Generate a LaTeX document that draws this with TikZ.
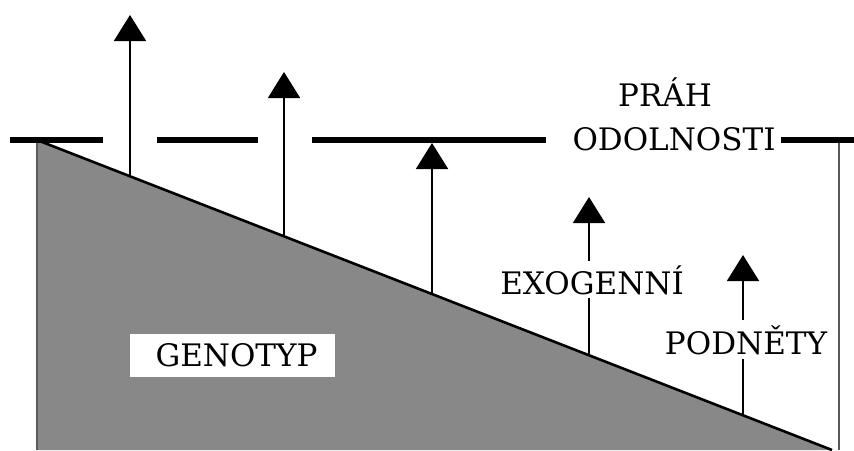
\documentclass[tikz,border=0pt]{standalone}
\usepackage{fontspec}
\setmainfont{DejaVu Serif}
\usetikzlibrary{arrows.meta}
\definecolor{genofill}{RGB}{136,136,136}
\definecolor{edgegray}{RGB}{90,90,90}
\tikzset{
  lbl/.style={font=\fontsize{31}{40}\selectfont, inner sep=0pt, anchor=base},
  threshold/.style={line width=5.5pt, black},
  stimulus/.style={line width=1.8pt, black, -{Triangle[width=32pt,length=26pt]}},
  slope/.style={line width=2.6pt, black},
  sideline/.style={line width=2pt, edgegray},
}
\begin{document}
\begin{tikzpicture}[x=1pt,y=-1pt]
\useasboundingbox (0,0) rectangle (854,450);

% genotype wedge
\coordinate (top) at (37,140);
\coordinate (low) at (832,450);
\coordinate (corner) at (37,450);
\fill[genofill] (top) -- (low) -- (corner) -- cycle;
\draw[sideline] (top) -- (corner);
\draw[slope] (top) -- (low);

% right border
\coordinate (rtop) at (839,140);
\coordinate (rbot) at (839,450);
\draw[sideline] (rtop) -- (rbot);

% resistance threshold (dashed)
\coordinate (d1a) at (10,140);  \coordinate (d1b) at (103,140);
\coordinate (d2a) at (157,140); \coordinate (d2b) at (258,140);
\coordinate (d3a) at (312,140); \coordinate (d3b) at (546,140);
\coordinate (d4a) at (781,140); \coordinate (d4b) at (854,140);
\draw[threshold] (d1a) -- (d1b);
\draw[threshold] (d2a) -- (d2b);
\draw[threshold] (d3a) -- (d3b);
\draw[threshold] (d4a) -- (d4b);

% stimulus arrows rising from the genotype line
\coordinate (b1) at (130,176); \coordinate (t1) at (130,15);
\coordinate (b2) at (284,236); \coordinate (t2) at (284,72);
\coordinate (b3) at (432,294); \coordinate (t3) at (432,143);
\coordinate (b4) at (589,355); \coordinate (t4) at (589,197);
\coordinate (b5) at (743,415); \coordinate (t5) at (743,255);
\draw[stimulus] (b1) -- (t1);
\draw[stimulus] (b2) -- (t2);
\draw[stimulus] (b3) -- (t3);
\draw[stimulus] (b4) -- (t4);
\draw[stimulus] (b5) -- (t5);

% labels
\node[lbl] (prah) at (665,106) {PRÁH};
\node[lbl, fill=white, inner xsep=4pt] (odolnosti) at (674,150) {ODOLNOSTI};
\node[lbl, fill=white, inner xsep=3pt, inner ysep=4pt] (exo) at (592,294) {EXOGENNÍ};
\node[lbl, fill=white, inner xsep=3pt, inner ysep=5pt] (podnety) at (746,354) {PODNĚTY};
\node[font=\fontsize{31}{40}\selectfont, fill=white, inner sep=0pt,
      minimum width=205pt, text height=23pt, text depth=0pt, inner ysep=10pt]
      (geno) at (232.5,355) {\hspace*{8pt}GENOTYP};
\end{tikzpicture}
\end{document}
